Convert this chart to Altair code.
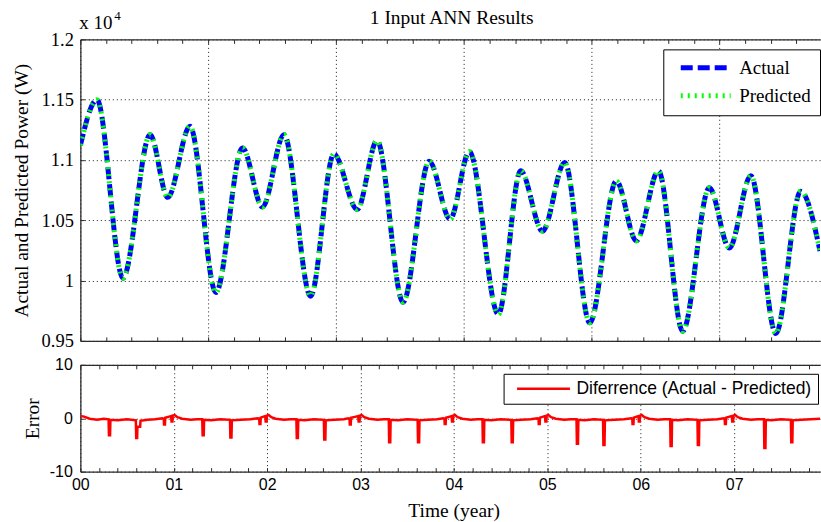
import altair as alt
import pandas as pd

# ---------------- data ----------------
# Top panel: time (years) and power (x 10^4 W) at the turning points of the curve
t_top = [0.000, 0.178, 0.456, 0.747, 0.936, 1.174, 1.451, 1.736, 1.950, 2.180,
         2.465, 2.714, 2.964, 3.177, 3.455, 3.735, 3.959, 4.165, 4.475, 4.714,
         4.948, 5.186, 5.454, 5.738, 5.952, 6.190, 6.449, 6.734, 6.948, 7.179,
         7.446, 7.712, 7.919]
p_actual = [1.112, 1.150, 1.002, 1.121, 1.069, 1.128, 0.990, 1.110, 1.061, 1.121,
            0.987, 1.105, 1.059, 1.116, 0.982, 1.099, 1.051, 1.107, 0.972, 1.091,
            1.041, 1.098, 0.965, 1.0825, 1.033, 1.091, 0.958, 1.077, 1.027, 1.087,
            0.956, 1.074, 1.0245]
p_predicted = [1.112, 1.150, 1.002, 1.121, 1.069, 1.128, 0.990, 1.110, 1.061, 1.121,
               0.987, 1.105, 1.059, 1.116, 0.982, 1.099, 1.051, 1.107, 0.972, 1.091,
               1.041, 1.098, 0.965, 1.0825, 1.033, 1.091, 0.958, 1.077, 1.027, 1.087,
               0.956, 1.074, 1.0245]

# Bottom panel: error (Actual - Predicted)
err_t = [
    0.000, 0.040, 0.100, 0.180, 0.250, 0.302, 0.306, 0.318, 0.322, 0.400, 0.500,
    0.594, 0.598, 0.608, 0.611, 0.640, 0.644, 0.720, 0.800, 0.880, 0.893, 0.896,
    0.906, 0.909, 0.950, 0.972, 0.976, 0.986, 0.990, 1.010, 1.040, 1.090,
    1.180, 1.250, 1.305, 1.309, 1.321, 1.325, 1.400, 1.500, 1.602, 1.606, 1.618,
    1.622, 1.720, 1.820, 1.900, 1.915, 1.918, 1.928, 1.931, 1.960, 1.980, 1.984,
    1.994, 1.998, 2.015, 2.045, 2.090,
    2.180, 2.250, 2.313, 2.317, 2.329, 2.333, 2.400, 2.500, 2.607, 2.611, 2.623,
    2.627, 2.720, 2.820, 2.870, 2.882, 2.885, 2.895, 2.898, 2.950, 2.975, 2.979,
    2.989, 2.993, 3.010, 3.040, 3.090,
    3.180, 3.250, 3.302, 3.306, 3.318, 3.322, 3.400, 3.500, 3.611, 3.615, 3.627,
    3.631, 3.720, 3.820, 3.885, 3.898, 3.901, 3.911, 3.914, 3.955, 3.975, 3.979,
    3.989, 3.993, 4.010, 4.040, 4.090,
    4.180, 4.250, 4.305, 4.309, 4.321, 4.325, 4.400, 4.500, 4.614, 4.618, 4.630,
    4.634, 4.720, 4.820, 4.895, 4.905, 4.908, 4.918, 4.921, 4.955, 4.975, 4.979,
    4.989, 4.993, 5.010, 5.040, 5.090,
    5.180, 5.250, 5.312, 5.316, 5.328, 5.332, 5.400, 5.500, 5.596, 5.600, 5.612,
    5.616, 5.720, 5.820, 5.900, 5.909, 5.912, 5.922, 5.925, 5.955, 5.975, 5.979,
    5.989, 5.993, 6.010, 6.040, 6.090,
    6.180, 6.250, 6.315, 6.319, 6.331, 6.335, 6.400, 6.500, 6.607, 6.611, 6.623,
    6.627, 6.720, 6.820, 6.890, 6.898, 6.901, 6.911, 6.914, 6.950, 6.975, 6.979,
    6.989, 6.993, 7.010, 7.040, 7.090,
    7.180, 7.250, 7.319, 7.323, 7.335, 7.339, 7.400, 7.500, 7.607, 7.611, 7.623,
    7.627, 7.720, 7.820, 7.919,
]
err_v = [
    0.4, 0.3, -0.1, -0.3, -0.1, -0.2, -3.2, -3.2, -0.3, -0.4, -0.2,
    -0.4, -3.7, -3.7, -1.6, -1.6, -0.5, -0.3, -0.2, 0.0, -0.1, -1.2,
    -1.2, 0.1, 0.3, 0.4, -0.6, -0.6, 0.5, 0.6, 0.2, -0.1,
    -0.3, -0.2, -0.2, -3.2, -3.2, -0.3, -0.4, -0.2, -0.3, -3.6, -3.6,
    -0.4, -0.3, -0.2, 0.0, -0.1, -1.1, -1.1, 0.1, 0.3, 0.4, -0.6,
    -0.6, 0.5, 0.6, 0.2, -0.1,
    -0.3, -0.2, -0.2, -3.7, -3.7, -0.3, -0.4, -0.2, -0.3, -4.0, -4.0,
    -0.4, -0.3, -0.2, 0.0, -0.1, -1.2, -1.2, 0.1, 0.3, 0.4, -0.6,
    -0.6, 0.5, 0.6, 0.2, -0.1,
    -0.3, -0.2, -0.2, -4.5, -4.5, -0.3, -0.4, -0.2, -0.3, -4.5, -4.5,
    -0.4, -0.3, -0.2, 0.0, -0.1, -1.1, -1.1, 0.1, 0.3, 0.4, -0.6,
    -0.6, 0.5, 0.6, 0.2, -0.1,
    -0.3, -0.2, -0.2, -4.5, -4.5, -0.3, -0.4, -0.2, -0.3, -4.5, -4.5,
    -0.4, -0.3, -0.2, 0.0, -0.1, -1.1, -1.1, 0.1, 0.3, 0.4, -0.6,
    -0.6, 0.5, 0.6, 0.2, -0.1,
    -0.3, -0.2, -0.2, -4.8, -4.8, -0.3, -0.4, -0.2, -0.3, -5.0, -5.0,
    -0.4, -0.3, -0.2, 0.0, -0.1, -1.1, -1.1, 0.1, 0.3, 0.4, -0.6,
    -0.6, 0.5, 0.6, 0.2, -0.1,
    -0.3, -0.2, -0.2, -5.2, -5.2, -0.3, -0.4, -0.2, -0.3, -5.0, -5.0,
    -0.4, -0.3, -0.2, 0.0, -0.1, -1.1, -1.1, 0.1, 0.3, 0.4, -0.6,
    -0.6, 0.5, 0.6, 0.2, -0.1,
    -0.3, -0.2, -0.2, -5.6, -5.6, -0.3, -0.4, -0.2, -0.3, -4.5, -4.5,
    -0.4, -0.3, -0.2, -0.1,
]

series_names = ["Actual", "Predicted"]
err_label = "Diferrence (Actual - Predicted)"

# axis values
top_y_vals = [0.95, 1.0, 1.05, 1.1, 1.15, 1.2]
top_minor_ticks = [round(k * 100 / 365.25, 4) for k in range(29)]   # every 100 days
top_grid = [round(k * 500 / 365.25, 4) for k in range(6)]           # every 500 days
year_ticks = [0, 1, 2, 3, 4, 5, 6, 7]
bot_minor_ticks = [round(k * 0.2, 1) for k in range(40)]
bot_y_vals = [-10, 0, 10]

# ---------------- styling ----------------
SERIF = "Liberation Serif"
SANS = "Liberation Sans"
FRAME = "#2b2b2b"
XMAX = 7.919
W = 741
H_TOP = 302
H_BOT = 107

top_df = pd.DataFrame({
    "t": t_top + t_top,
    "p": p_actual + p_predicted,
    "series": [series_names[0]] * len(t_top) + [series_names[1]] * len(t_top),
})
err_df = pd.DataFrame({"t": err_t, "e": err_v, "label": [err_label] * len(err_t)})

xscale = alt.Scale(domain=[0, XMAX], nice=False, zero=False)
ytop_scale = alt.Scale(domain=[0.95, 1.2], nice=False, zero=False)
ybot_scale = alt.Scale(domain=[-10, 10], nice=False, zero=False)

grid_kw = dict(grid=True, gridColor="#000000", gridDash=[1, 3], gridWidth=1, gridOpacity=0.9)


def frame_axis(orient):
    return alt.Axis(orient=orient, values=[], ticks=False, labels=False, grid=False,
                    domain=True, domainColor=FRAME, domainWidth=1.3, title=None)


def tick_axis(orient, values):
    return alt.Axis(orient=orient, offset=-4, values=values, ticks=True, tickSize=4,
                    tickColor=FRAME, tickWidth=1, labels=False, domain=False,
                    grid=False, title=None)


top_legend = alt.Legend(
    orient="none", legendX=584, legendY=10, title=None, direction="vertical",
    fillColor="white", strokeColor="#000000", padding=9, cornerRadius=0,
    symbolType="stroke", symbolSize=2500, symbolStrokeWidth=5, symbolOffset=6,
    labelOffset=6, labelFont=SERIF, labelFontSize=19, labelColor="#000000",
    rowPadding=8, labelLimit=300, clipHeight=19,
)
color_top = alt.Color("series:N", scale=alt.Scale(domain=series_names, range=["#0000ff", "#00ff00"]),
                      legend=top_legend)
dash_top = alt.StrokeDash("series:N", scale=alt.Scale(domain=series_names, range=[[12, 5], [2, 5]]),
                          legend=top_legend)

base_top = alt.Chart(top_df)

actual_line = base_top.transform_filter(alt.datum.series == "Actual").mark_line(
    interpolate="monotone", strokeWidth=5, clip=True
).encode(
    x=alt.X("t:Q", scale=xscale, axis=alt.Axis(
        orient="bottom", values=top_grid, ticks=False, labels=False, domain=True,
        domainColor=FRAME, domainWidth=1.3, title=None, **grid_kw)),
    y=alt.Y("p:Q", scale=ytop_scale, axis=alt.Axis(
        orient="left", values=top_y_vals, ticks=False, labels=True, labelFlush=False,
        labelExpr="format(datum.value, '~g')", labelFont=SERIF, labelFontSize=18.5,
        labelColor="#000000", labelPadding=7, domain=True, domainColor=FRAME, domainWidth=1.3,
        title="Actual and Predicted Power (W)", titleFont=SERIF, titleFontSize=19.5,
        titleFontWeight="normal", titleColor="#000000", titleAngle=270, titleX=-49,
        titleY=H_TOP / 2, titleAlign="center", titleBaseline="bottom", **grid_kw)),
    color=color_top,
    strokeDash=dash_top,
)

predicted_line = base_top.transform_filter(alt.datum.series == "Predicted").mark_line(
    interpolate="monotone", strokeWidth=5, clip=True
).encode(
    x=alt.X("t:Q", scale=xscale, axis=frame_axis("top")),
    y=alt.Y("p:Q", scale=ytop_scale, axis=None),
    color=color_top,
    strokeDash=dash_top,
)

ticks_top_a = base_top.transform_filter(alt.datum.series == "Actual").mark_line(opacity=0).encode(
    x=alt.X("t:Q", scale=xscale, axis=tick_axis("bottom", top_minor_ticks)),
    y=alt.Y("p:Q", scale=ytop_scale, axis=tick_axis("left", top_y_vals)),
)
ticks_top_b = base_top.transform_filter(alt.datum.series == "Actual").mark_line(opacity=0).encode(
    x=alt.X("t:Q", scale=xscale, axis=tick_axis("top", top_minor_ticks)),
    y=alt.Y("p:Q", scale=ytop_scale, axis=None),
)

title_txt = alt.Chart(pd.DataFrame({"s": ["1 Input ANN Results"]})).mark_text(
    font=SERIF, fontSize=19.5, align="center", baseline="alphabetic", color="#000000"
).encode(x=alt.value(372), y=alt.value(-15), text="s:N")
exp_txt = alt.Chart(pd.DataFrame({"s": ["x 10"]})).mark_text(
    font=SERIF, fontSize=19, align="left", baseline="alphabetic", color="#000000"
).encode(x=alt.value(-1), y=alt.value(-10), text="s:N")
sup_txt = alt.Chart(pd.DataFrame({"s": ["4"]})).mark_text(
    font=SERIF, fontSize=13, align="left", baseline="alphabetic", color="#000000"
).encode(x=alt.value(34), y=alt.value(-19), text="s:N")

top = alt.layer(
    actual_line, predicted_line, ticks_top_a, ticks_top_b, title_txt, exp_txt, sup_txt
).resolve_axis(x="independent", y="independent").properties(width=W, height=H_TOP)

# ---------------- bottom panel ----------------
bot_legend = alt.Legend(
    orient="none", legendX=424, legendY=9, title=None, direction="vertical",
    fillColor="white", strokeColor="#000000", padding=6, cornerRadius=0,
    symbolType="stroke", symbolSize=2809, symbolStrokeWidth=2.5, symbolOffset=6,
    labelOffset=5, labelFont=SANS, labelFontSize=17.5, labelColor="#000000",
    labelLimit=400, clipHeight=18,
)

base_bot = alt.Chart(err_df)

err_line = base_bot.mark_line(strokeWidth=2.5, clip=True).encode(
    x=alt.X("t:Q", scale=xscale, axis=alt.Axis(
        orient="bottom", values=year_ticks, ticks=False, labels=True, labelFlush=False,
        labelExpr="'0' + datum.value", labelFont=SANS, labelFontSize=16,
        labelColor="#000000", labelPadding=5, domain=True, domainColor=FRAME,
        domainWidth=1.3, title="Time (year)", titleFont=SERIF, titleFontSize=19.5,
        titleFontWeight="normal", titleColor="#000000", titleX=374, titleY=45,
        titleAlign="center", titleBaseline="alphabetic", **grid_kw)),
    y=alt.Y("e:Q", scale=ybot_scale, axis=alt.Axis(
        orient="left", values=bot_y_vals, ticks=False, labels=True, labelFlush=False,
        labelExpr="'' + datum.value", labelFont=SANS, labelFontSize=16,
        labelColor="#000000", labelPadding=8, domain=True, domainColor=FRAME,
        domainWidth=1.3, title="Error", titleFont=SERIF, titleFontSize=19.5,
        titleFontWeight="normal", titleColor="#000000", titleAngle=270, titleX=-38,
        titleY=H_BOT / 2, titleAlign="center", titleBaseline="bottom", **grid_kw)),
    color=alt.Color("label:N", scale=alt.Scale(domain=[err_label], range=["#ff0000"]),
                    legend=bot_legend),
)

frame_bot = base_bot.mark_line(opacity=0).encode(
    x=alt.X("t:Q", scale=xscale, axis=frame_axis("top")),
    y=alt.Y("e:Q", scale=ybot_scale, axis=None),
)
ticks_bot_a = base_bot.mark_line(opacity=0).encode(
    x=alt.X("t:Q", scale=xscale, axis=tick_axis("bottom", bot_minor_ticks)),
    y=alt.Y("e:Q", scale=ybot_scale, axis=tick_axis("left", bot_y_vals)),
)
ticks_bot_b = base_bot.mark_line(opacity=0).encode(
    x=alt.X("t:Q", scale=xscale, axis=tick_axis("top", bot_minor_ticks)),
    y=alt.Y("e:Q", scale=ybot_scale, axis=None),
)

bottom = alt.layer(
    err_line, frame_bot, ticks_bot_a, ticks_bot_b
).resolve_axis(x="independent", y="independent").properties(width=W, height=H_BOT)

chart = alt.vconcat(top, bottom, spacing=5).resolve_scale(
    color="independent", strokeDash="independent"
).configure_view(
    stroke="transparent"
).properties(
    padding={"left": 10.5, "top": 7, "right": 0, "bottom": 0},
    background="white",
)

chart.save("out.html", embed_options={"renderer": "svg", "actions": False})
